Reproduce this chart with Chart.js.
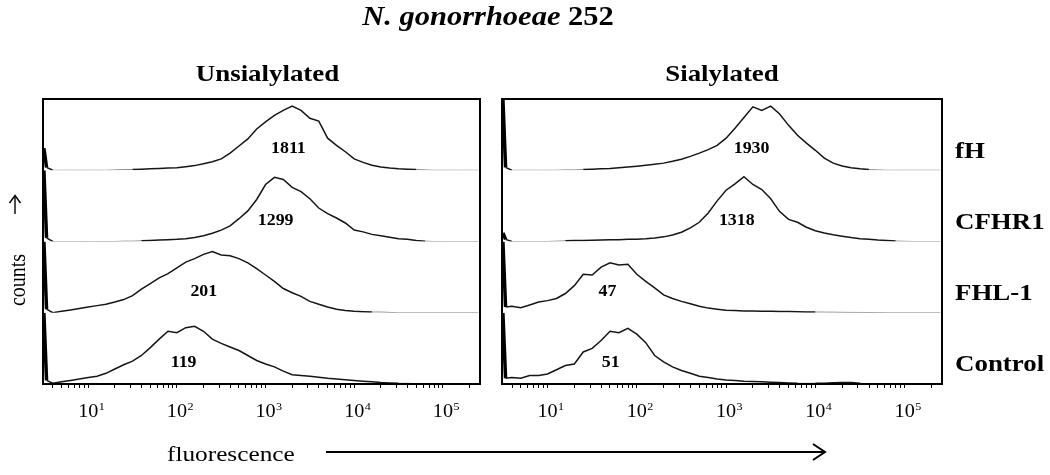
<!DOCTYPE html>
<html>
<head>
<meta charset="utf-8">
<script src="https://cdn.jsdelivr.net/npm/chart.js@4/dist/chart.umd.min.js"></script>
<style>
  html, body { margin: 0; padding: 0; background: #fff; }
  #wrap { position: relative; width: 1050px; height: 475px; overflow: hidden; }
  canvas, svg { position: absolute; top: 0; }
</style>
</head>
<body>
<div id="wrap">
  <canvas id="cL" width="490" height="475" style="left:0"></canvas>
  <canvas id="cR" width="560" height="475" style="left:490px"></canvas>
  <svg width="1050" height="475" style="left:0;pointer-events:none" font-family="'Liberation Serif', 'Times New Roman', serif">
    <text transform="translate(488,25) scale(1.13,1)" text-anchor="middle" font-weight="bold" font-size="27"><tspan font-style="italic">N. gonorrhoeae</tspan> 252</text>
    <g stroke="#000" stroke-width="1.4" fill="none">
      <line x1="15" y1="214" x2="15" y2="196"/>
      <polyline points="9.5,203 15,195.5 20.5,203"/>
    </g>
    <text transform="translate(25,280) scale(1.15,1) rotate(-90)" text-anchor="middle" font-size="20">counts</text>
    <text transform="translate(167,461) scale(1.15,1)" font-size="22">fluorescence</text>
    <g stroke="#000" stroke-width="2" fill="none">
      <line x1="326" y1="452" x2="824" y2="452"/>
      <polyline points="813,444 825,452 813,460"/>
    </g>
  </svg>
</div>
<script>
// ---------------- data ----------------
const rowNames = ['fH', 'CFHR1', 'FHL-1', 'Control'];
const panelTitles = ['Unsialylated', 'Sialylated'];

// log10(fluorescence) of each histogram channel
const logFluor = [0.5, 0.53,
  0.6, 0.7, 0.8, 0.9,
  1.0, 1.1, 1.2, 1.3, 1.4, 1.5, 1.6, 1.7, 1.8, 1.9,
  2.0, 2.1, 2.2, 2.3, 2.4, 2.5, 2.6, 2.7, 2.8, 2.9,
  3.0, 3.1, 3.2, 3.3, 3.4, 3.5, 3.6, 3.7, 3.8, 3.9,
  4.0, 4.1, 4.2, 4.3, 4.4, 4.5, 4.6, 4.7, 4.8, 4.9,
  5.0, 5.1, 5.2, 5.3, 5.4];

// relative counts (% of row height)
const unsialFH = [31, 4,
  0, 0, 0, 0,
  0, 0, 0, 0.5, 1, 1, 1.5, 2, 2.5, 3,
  3.5, 5, 6.5, 9, 12, 16, 24, 34, 44, 58,
  68, 77, 84, 90, 84, 73, 69, 45, 35, 26,
  16, 11, 7, 4.5, 3, 2, 1.5, 1, 0.5, 0,
  0, 0, 0, 0, 0];
const unsialCFHR1 = [100, 5,
  0, 0, 0, 0,
  0, 0, 0, 0, 0.5, 0.5, 1, 1.5, 2, 2.5,
  3, 4, 5.5, 8, 11.5, 16, 22, 32, 43, 59,
  80, 90, 87, 76, 70, 60, 47, 39, 33, 26,
  16, 13.5, 10, 8, 6, 4, 3, 1.5, 0.5, 0,
  0, 0, 0, 0, 0];
const unsialFHL1 = [100, 5,
  0, 2, 4, 6,
  8, 10, 12, 15, 18.5, 24, 33, 41, 49, 55,
  63, 71, 76, 82, 86, 81, 80, 76, 70, 62,
  53, 44, 34, 28, 23, 16, 12, 8, 5, 3,
  2, 1.5, 1, 1, 0.5, 0, 0, 0, 0, 0,
  0, 0, 0, 0, 0];
const unsialControl = [100, 5,
  1, 3, 5, 7,
  9, 11, 15, 21, 27, 32, 40, 51, 63, 74,
  72, 79, 81, 74, 63, 57, 52, 47, 40, 33,
  28, 24, 18, 13, 12, 11, 9.5, 8, 7, 6,
  5, 4, 3, 2, 1.5, 1, 1, 0.5, 0.5, 0,
  0, 0, 0, 0, 0];

const sialFH = [100, 4,
  0, 0, 0, 0,
  0, 0, 0.5, 0.5, 1, 1.5, 2, 2.5, 3.5, 4.5,
  5.7, 7, 8.5, 10, 12.5, 15.5, 19.5, 24, 29, 35,
  45, 59, 74, 89, 84, 90, 79, 63, 49, 38,
  28, 17, 10, 6, 3.5, 2, 1, 0.5, 0, 0,
  0, 0, 0, 0, 0];
const sialCFHR1 = [12, 3,
  0, 0, 0, 0,
  0, 0.5, 1, 1.3, 1.5, 1.8, 2, 2.3, 2.6, 3,
  3.3, 4, 5, 6.5, 9, 13, 19, 27, 40, 57,
  72, 81, 91, 80, 73, 60, 42, 31, 27, 20,
  15, 12, 9.5, 7.5, 5.5, 4, 3, 2, 1.3, 0.7,
  0.3, 0, 0, 0, 0];
const sialFHL1 = [100, 8,
  9, 7, 11, 15,
  17, 20, 27, 38, 54, 53, 64, 70, 67, 68,
  54, 44, 35, 25, 20, 16, 12.5, 9, 6.5, 5,
  3.5, 3, 2.5, 2.3, 2.2, 2, 1.8, 1.6, 1.4, 1.2,
  1, 0.9, 0.8, 0.6, 0.5, 0.4, 0.3, 0.2, 0, 0,
  0, 0, 0, 0, 0];
const sialControl = [100, 8,
  9, 8, 12, 12,
  14, 20, 26, 28, 45, 50, 61, 74, 72, 78,
  70, 58, 40, 31, 24, 19, 15, 11, 9, 7,
  5.5, 5, 4, 3.5, 3, 2.5, 2, 1.5, 1, 1,
  1, 1.2, 1.8, 2.2, 2, 1, 0.5, 0.3, 0, 0,
  0, 0, 0, 0, 0];

// geometric mean fluorescence printed under each peak
const mfiUnsialylated = [1811, 1299, 201, 119];
const mfiSialylated = [1930, 1318, 47, 51];

// axis
const fluorMin = 3.09;
const fluorMax = 262144;
const tickBase = '10';
const tickExponents = [1, 2, 3, 4, 5];

// ---------------- drawing ----------------
const SERIF = '"Liberation Serif", "Times New Roman", serif';
Chart.defaults.font.family = SERIF;

const tickValues = [];
for (let d = 0; d <= 5; d++) {
  for (let m = 1; m <= 9; m++) {
    const v = m * Math.pow(10, d);
    if (v >= fluorMin && v <= fluorMax) tickValues.push(v);
  }
}

function drawText(ctx, text, x, y, font, sx, align, baseline) {
  ctx.save();
  ctx.font = font;
  ctx.fillStyle = '#000';
  ctx.textAlign = align || 'center';
  ctx.textBaseline = baseline || 'alphabetic';
  ctx.translate(x, y);
  ctx.scale(sx, 1);
  ctx.fillText(text, 0, 0);
  ctx.restore();
}

const decoPlugin = {
  id: 'panelDeco',
  afterDraw(chart, args, opts) {
    const { ctx, chartArea: a, scales } = chart;
    const xs = scales.x;
    ctx.save();
    ctx.strokeStyle = '#000';
    ctx.lineWidth = 2;
    ctx.strokeRect(a.left, a.top, a.right - a.left, a.bottom - a.top);
    ctx.restore();
    drawText(ctx, opts.title, (a.left + a.right) / 2 + (opts.titleDx || 0), a.top - 18,
      'bold 24px ' + SERIF, 1.12, 'center');
    tickExponents.forEach((p) => {
      const px = xs.getPixelForValue(Math.pow(10, p));
      drawText(ctx, tickBase, px, a.bottom + 33, '18px ' + SERIF, 1.12, 'center');
      drawText(ctx, String(p), px + 10.5, a.bottom + 25.5, '11px ' + SERIF, 1.1, 'left');
    });
    opts.mfi.forEach((v, i) => {
      const ys = scales['r' + i];
      drawText(ctx, String(v), xs.getPixelForValue(v), ys.getPixelForValue(30),
        'bold 17px ' + SERIF, 1.05, 'center', 'middle');
    });
    if (opts.rowLabels) {
      rowNames.forEach((n, i) => {
        const ys = scales['r' + i];
        drawText(ctx, n, a.right + 13, ys.getPixelForValue(26),
          'bold 23px ' + SERIF, 1.17, 'left', 'middle');
      });
    }
  }
};

function isBase(c) { return c.p0.parsed.y < 1.2 && c.p1.parsed.y < 1.2; }
function isSpike(c) { return c.p0DataIndex === 0; }

function makeChart(id, series, mfi, title, padding, rowLabels, titleDx) {
  const datasets = series.map((vals, i) => ({
    label: rowNames[i],
    data: vals.map((v, j) => ({ x: Math.pow(10, logFluor[j]), y: v })),
    yAxisID: 'r' + i,
    borderColor: '#151515',
    borderWidth: 1.5,
    pointRadius: 0,
    tension: 0,
    fill: false,
    segment: {
      borderColor: (c) => isSpike(c) ? '#000' : (isBase(c) ? '#8a8a8a' : undefined),
      borderWidth: (c) => isSpike(c) ? 3.5 : (isBase(c) ? 1 : undefined)
    }
  }));
  const scales = {
    x: {
      type: 'logarithmic',
      min: fluorMin,
      max: fluorMax,
      border: { display: false },
      grid: { drawOnChartArea: false, drawTicks: true, tickLength: 4, color: '#000', lineWidth: 1 },
      ticks: { display: false, autoSkip: false },
      afterBuildTicks: (s) => { s.ticks = tickValues.map((v) => ({ value: v })); },
      afterFit: (s) => { s.height = 30; }
    }
  };
  rowNames.forEach((n, i) => {
    scales['r' + i] = {
      type: 'linear', min: 0, max: 100, display: false,
      position: 'right', stack: 'rows', stackWeight: 1
    };
  });
  return new Chart(document.getElementById(id), {
    type: 'line',
    data: { datasets },
    options: {
      responsive: false,
      animation: false,
      events: [],
      layout: { padding },
      scales,
      plugins: {
        legend: { display: false },
        tooltip: { enabled: false },
        panelDeco: { title, mfi, rowLabels, titleDx }
      }
    },
    plugins: [decoPlugin]
  });
}

makeChart('cL', [unsialFH, unsialCFHR1, unsialFHL1, unsialControl], mfiUnsialylated,
  panelTitles[0], { left: 43, right: 10, top: 99, bottom: 61 }, false, 6);
makeChart('cR', [sialFH, sialCFHR1, sialFHL1, sialControl], mfiSialylated,
  panelTitles[1], { left: 12, right: 108, top: 99, bottom: 61 }, true, 0);
</script>
</body>
</html>
